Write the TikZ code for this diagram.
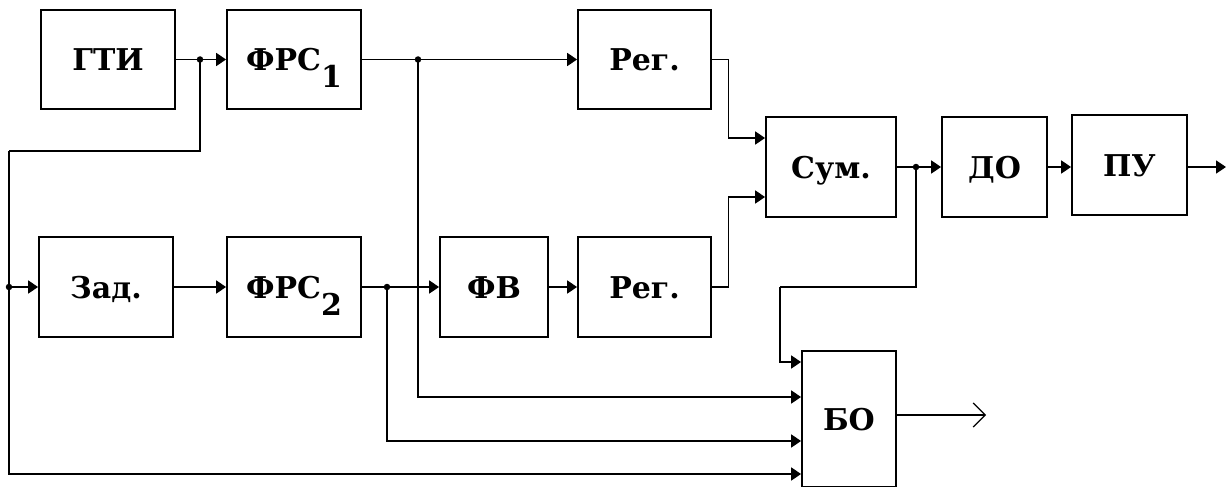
\documentclass[tikz,border=0pt]{standalone}
\usepackage{fontspec}
\setmainfont{DejaVu Serif}
\usetikzlibrary{arrows.meta}
\begin{document}
\begin{tikzpicture}[x=1pt,y=-1pt,line width=1.8pt,
  blk/.style={draw,line width=1.8pt,inner sep=0pt,font=\fontsize{30}{36}\selectfont\bfseries,text height=22pt,text depth=0pt},
  arr/.style={-{Triangle[length=10pt,width=13pt]}},
  opn/.style={-{Straight Barb[length=12pt,width=24pt,line width=1.2pt]}},
  dot/.style={circle,fill,inner sep=0pt,minimum size=6.5pt}]
\useasboundingbox (0,0) rectangle (1226,487);
% blocks
\node[blk,minimum width=134pt,minimum height=99pt] (gti) at (108,59.5) {ГТИ};
\node[blk,minimum width=134pt,minimum height=99pt] (frs1) at (294,59.5) {ФРС\raisebox{-17pt}{1}};
\node[blk,minimum width=133pt,minimum height=99pt] (reg1) at (644.5,59.5) {Рег.};
\node[blk,minimum width=130pt,minimum height=100pt] (sum) at (831,167) {Сум.};
\node[blk,minimum width=105pt,minimum height=100pt] (do) at (994.5,167) {ДО};
\node[blk,minimum width=115pt,minimum height=100pt] (pu) at (1129.5,165) {ПУ};
\node[blk,minimum width=134pt,minimum height=100pt] (zad) at (106,287) {Зад.};
\node[blk,minimum width=134pt,minimum height=100pt] (frs2) at (294,287) {ФРС\raisebox{-17pt}{2}};
\node[blk,minimum width=108pt,minimum height=100pt] (fv) at (494,287) {ФВ};
\node[blk,minimum width=133pt,minimum height=100pt] (reg2) at (644.5,287) {Рег.};
\node[blk,minimum width=94pt,minimum height=136pt] (bo) at (849,419) {БО};
% junctions and levels
\coordinate (j1) at (200,59.5);
\coordinate (j2) at (418,59.5);
\coordinate (j3) at (387,287);
\coordinate (j4) at (916,167);
\coordinate (j5) at (9,287);
\coordinate (fb) at (9,151);
\coordinate (cfb) at (780,287);
\coordinate (ys1) at (0,138);
\coordinate (ys2) at (0,197);
\coordinate (y1) at (0,362);
\coordinate (y2) at (0,397);
\coordinate (y3) at (0,441);
\coordinate (y4) at (0,474);
\coordinate (yo) at (0,415);
\coordinate (bout) at (986,415);
\coordinate (pend) at (1226,167);
% connectors
\draw (gti.east) -- (j1);
\draw[arr] (j1) -- (frs1.west);
\draw (j1) |- (fb);
\draw[arr] (fb) |- (bo.west |- y4);
\draw[arr] (j5) -- (zad.west);
\draw[arr] (zad) -- (frs2);
\draw (frs2.east) -- (j3);
\draw[arr] (j3) -- (fv.west);
\draw[arr] (fv) -- (reg2);
\draw (frs1.east) -- (j2);
\draw[arr] (j2) -- (reg1.west);
\draw[arr] (j2) |- (bo.west |- y2);
\draw[arr] (j3) |- (bo.west |- y3);
\draw[arr] (reg1.east) -- ++(16.5,0) |- (sum.west |- ys1);
\draw[arr] (reg2.east) -- ++(16.5,0) |- (sum.west |- ys2);
\draw (sum.east) -- (j4);
\draw[arr] (j4) -- (do.west);
\draw[arr] (do.east) -- (pu.west |- do.east);
\draw[arr] (pu.east |- do.east) -- (pend);
\draw (j4) |- (cfb);
\draw[arr] (cfb) |- (bo.west |- y1);
\draw[opn,line width=1.5pt] (bo.east |- yo) -- (bout);
% dots
\foreach \p in {j1,j2,j3,j4,j5} \node[dot] at (\p) {};
\end{tikzpicture}
\end{document}
